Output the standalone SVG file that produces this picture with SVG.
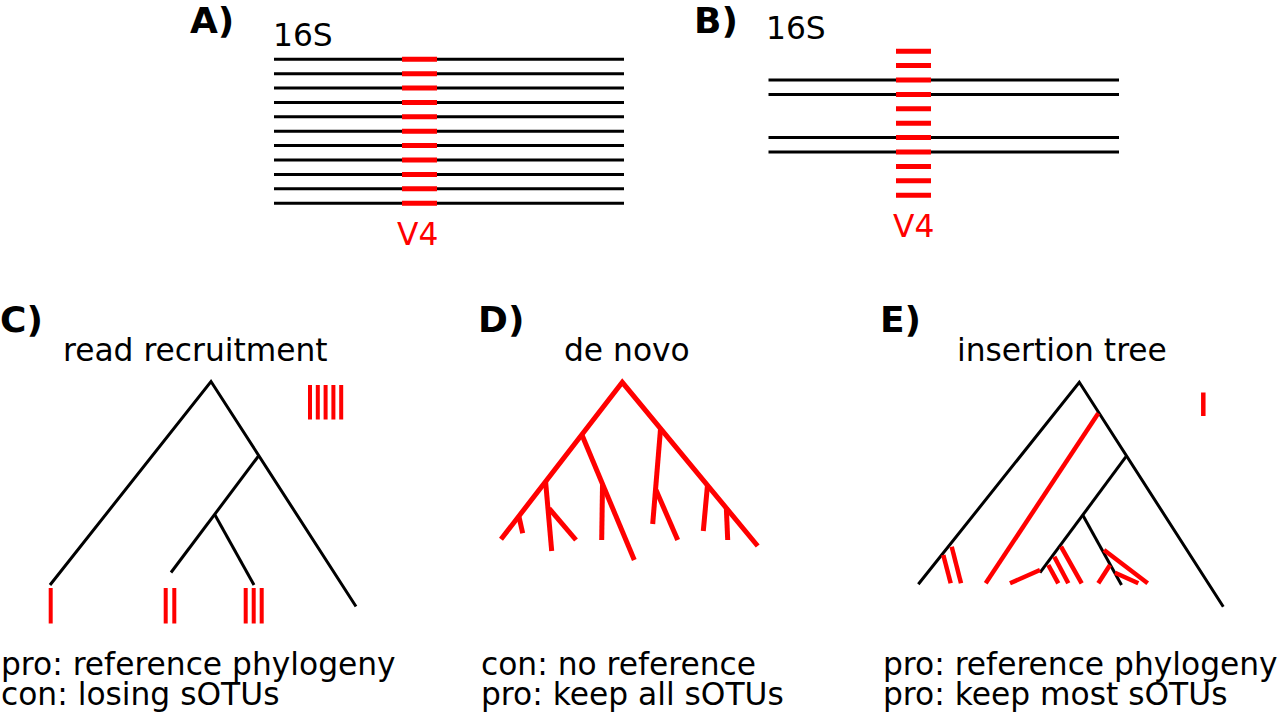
<svg xmlns="http://www.w3.org/2000/svg" width="1280" height="727" viewBox="0 0 1280 727">
<style>
text{font-family:"DejaVu Sans","Liberation Sans",sans-serif;font-size:31.3px;fill:#000}
.lbl{font-weight:bold;font-size:36px}
.red{fill:#ff0000}
.k{stroke:#000;stroke-width:3;fill:none;stroke-linecap:butt}
.r{stroke:#ff0000;stroke-width:5;fill:none}
.rt{stroke:#ff0000;stroke-width:4.5;fill:none}
.bar{stroke:#ff0000;stroke-width:4;fill:none}
</style>
<rect width="1280" height="727" fill="#fff"/>

<g id="panelA">
<text class="lbl" x="190" y="33">A)</text>
<text x="273" y="46">16S</text>
<g class="k">
<path d="M274 59.3H624M274 73.7H624M274 88H624M274 102.4H624M274 116.8H624M274 131.2H624M274 145.6H624M274 160H624M274 174.4H624M274 188.8H624M274 203.2H624"/>
</g>
<g class="r">
<path d="M402 59.3H437M402 73.7H437M402 88H437M402 102.4H437M402 116.8H437M402 131.2H437M402 145.6H437M402 160H437M402 174.4H437M402 188.8H437M402 203.2H437"/>
</g>
<text class="red" x="397" y="245">V4</text>
</g>

<g id="panelB">
<text class="lbl" x="694" y="33">B)</text>
<text x="766" y="39">16S</text>
<g class="k">
<path d="M768.5 80H1119M768.5 94.4H1119M768.5 137.6H1119M768.5 152H1119"/>
</g>
<g class="r">
<path d="M896 51.2H931M896 65.6H931M896 80H931M896 94.4H931M896 108.8H931M896 123.2H931M896 137.6H931M896 152H931M896 166.4H931M896 180.8H931M896 195.2H931"/>
</g>
<text class="red" x="893" y="237">V4</text>
</g>

<g id="panelC">
<text class="lbl" x="0" y="332">C)</text>
<text x="63" y="361">read recruitment</text>
<g id="treeC" class="k">
<path d="M50 585L211 381.5L356 606.5"/>
<path d="M258.5 456L171 572.5"/>
<path d="M215 515L254 585"/>
</g>
<g id="barsC" class="bar">
<path d="M50.7 588V623.5"/>
<path d="M165.7 588V623.5M174.3 588V623.5"/>
<path d="M245.7 588V623.5M253.7 588V623.5M261.7 588V623.5"/>
<path d="M310 385V419.5M317.8 385V419.5M325.6 385V419.5M333.4 385V419.5M341.2 385V419.5"/>
</g>
<text><tspan x="1" y="674.5">pro: reference phylogeny</tspan><tspan x="1" y="704.5">con: losing sOTUs</tspan></text>
</g>

<g id="panelD">
<text class="lbl" x="478" y="332">D)</text>
<text x="564" y="361">de novo</text>
<g id="treeD" class="r">
<path d="M501 539.3L622.3 382.3L757.7 546"/>
<path d="M582 435L634.3 560"/>
<path d="M602.5 485L601.7 540"/>
<path d="M545.6 481.7L551.7 551"/>
<path d="M549 508.3L576 540"/>
<path d="M519 516.7L522.7 533.3"/>
<path d="M660.5 429.3L652.7 524"/>
<path d="M656 490L677.7 540"/>
<path d="M707.5 485L703.3 531"/>
<path d="M726.3 507.3L727.7 540"/>
</g>
<text><tspan x="481" y="674.5">con: no reference</tspan><tspan x="481" y="704.5">pro: keep all sOTUs</tspan></text>
</g>

<g id="panelE">
<text class="lbl" x="880" y="332">E)</text>
<text x="957" y="361">insertion tree</text>
<g id="treeE" class="k">
<path d="M918.3 584.3L1079.3 382.3L1223.3 606.7"/>
<path d="M1126 456.7L1040 572.7"/>
<path d="M1083 515.5L1121.5 585"/>
</g>
<g id="insertE" class="rt">
<path d="M1098.3 413.3L985.7 583.3"/>
<path d="M943.3 555L950.7 583.3"/>
<path d="M951.7 546.7L961 583.3"/>
<path d="M1010 583.3L1040 570"/>
<path d="M1048.3 565L1058.3 583.3"/>
<path d="M1054.3 556.7L1068.3 583.3"/>
<path d="M1061 546.7L1081.7 583.3"/>
<path d="M1110 565L1098.3 583.3"/>
<path d="M1104 550L1147.7 583.3"/>
<path d="M1115 572.7L1138.3 583.3"/>
<path d="M1203.3 392.5V416"/>
</g>
<text><tspan x="883" y="674.5">pro: reference phylogeny</tspan><tspan x="883" y="704.5">pro: keep most sOTUs</tspan></text>
</g>
</svg>
